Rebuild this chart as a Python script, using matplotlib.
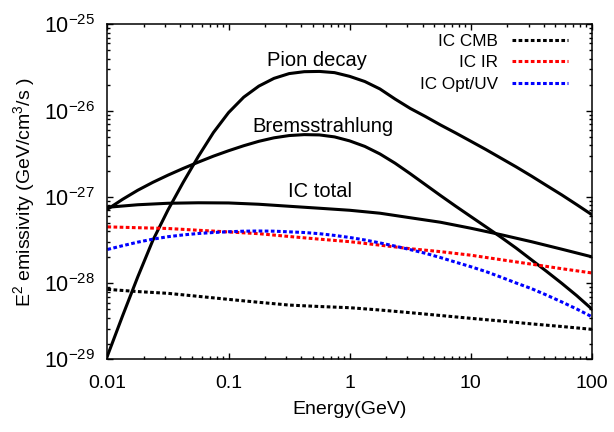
import matplotlib
matplotlib.use("Agg")
import matplotlib.pyplot as plt
from matplotlib.ticker import LogLocator, NullFormatter

plt.rcParams['font.family'] = ['Liberation Sans', 'DejaVu Sans']
plt.rcParams['mathtext.fontset'] = 'custom'
plt.rcParams['mathtext.rm'] = 'Liberation Sans'
plt.rcParams['mathtext.it'] = 'Liberation Sans'

# Energy grids (GeV)
energy_fine = [0.01, 0.01334, 0.01778, 0.02371, 0.03162, 0.04217, 0.05623, 0.07499,
               0.1, 0.1334, 0.1778, 0.2371, 0.3162, 0.4217, 0.5623, 0.7499,
               1.0, 1.334, 1.778, 2.371, 3.162, 4.217, 5.623, 7.499,
               10.0, 13.34, 17.78, 23.71, 31.62, 42.17, 56.23, 74.99, 100.0]
energy_coarse = [0.01, 0.01778, 0.03162, 0.05623, 0.1, 0.1778, 0.3162, 0.5623, 1.0,
                 1.778, 3.162, 5.623, 10.0, 17.78, 31.62, 56.23, 100.0]

pion = [1.45e-29, 4.22e-29, 1.186e-28, 3.15e-28, 7.08e-28, 1.474e-27, 2.94e-27, 5.57e-27,
        9.48e-27, 1.43e-26, 1.92e-26, 2.36e-26, 2.68e-26, 2.82e-26, 2.84e-26, 2.75e-26,
        2.49e-26, 2.17e-26, 1.78e-26, 1.36e-26, 1.06e-26, 8.55e-27, 6.82e-27, 5.51e-27,
        4.42e-27, 3.54e-27, 2.81e-27, 2.23e-27, 1.75e-27, 1.36e-27, 1.06e-27, 8.15e-28, 6.23e-28]
brems = [7.21e-28, 9.40e-28, 1.196e-27, 1.478e-27, 1.79e-27, 2.14e-27, 2.53e-27, 2.97e-27,
         3.43e-27, 3.92e-27, 4.41e-27, 4.84e-27, 5.14e-27, 5.27e-27, 5.23e-27, 4.96e-27,
         4.46e-27, 3.85e-27, 3.15e-27, 2.46e-27, 1.86e-27, 1.39e-27, 1.04e-27, 7.83e-28,
         5.94e-28, 4.51e-28, 3.42e-28, 2.56e-28, 1.88e-28, 1.38e-28, 1.005e-28, 7.21e-29, 5.04e-29]
ic_uv = [2.47e-28, 2.73e-28, 3.00e-28, 3.25e-28, 3.47e-28, 3.64e-28, 3.78e-28, 3.88e-28,
         3.96e-28, 4.02e-28, 4.04e-28, 4.02e-28, 3.95e-28, 3.88e-28, 3.76e-28, 3.59e-28,
         3.40e-28, 3.18e-28, 2.94e-28, 2.70e-28, 2.46e-28, 2.23e-28, 1.99e-28, 1.76e-28,
         1.56e-28, 1.37e-28, 1.18e-28, 1.01e-28, 8.71e-29, 7.33e-29, 6.11e-29, 5.05e-29, 4.11e-29]
ic_total = [7.60e-28, 8.13e-28, 8.46e-28, 8.57e-28, 8.53e-28, 8.24e-28, 7.81e-28, 7.41e-28,
            7.02e-28, 6.49e-28, 5.75e-28, 5.10e-28, 4.35e-28, 3.66e-28, 3.04e-28, 2.49e-28, 2.03e-28]
ic_cmb = [8.53e-29, 8.04e-29, 7.67e-29, 7.08e-29, 6.53e-29, 6.04e-29, 5.61e-29, 5.40e-29,
          5.23e-29, 4.92e-29, 4.58e-29, 4.25e-29, 3.94e-29, 3.67e-29, 3.40e-29, 3.17e-29, 2.94e-29]
ic_ir = [4.51e-28, 4.41e-28, 4.32e-28, 4.12e-28, 3.94e-28, 3.76e-28, 3.49e-28, 3.25e-28,
         3.04e-28, 2.77e-28, 2.52e-28, 2.33e-28, 2.12e-28, 1.88e-28, 1.67e-28, 1.48e-28, 1.32e-28]

xticks = [0.01, 0.1, 1, 10, 100]
xticklabels = ['0.01', '0.1', '1', '10', '100']
ytick_vals = [1.318e-29, 1e-28, 1e-27, 1e-26, 1e-25]
yticklabels = [r'$10^{-29}$', r'$10^{-28}$', r'$10^{-27}$', r'$10^{-26}$', r'$10^{-25}$']

fig = plt.figure(figsize=(6.14, 4.32), dpi=100)
ax = fig.add_axes([0.175, 0.168, 0.789, 0.776])

lw = 2.2
dots = (0, (1.2, 0.8))
ax.plot(energy_fine, pion, color='black', lw=lw, solid_joinstyle='round')
ax.plot(energy_fine, brems, color='black', lw=lw, solid_joinstyle='round')
ax.plot(energy_coarse, ic_total, color='black', lw=lw, solid_joinstyle='round')
ax.plot(energy_coarse, ic_cmb, color='black', lw=lw, ls=dots, dash_capstyle='butt', label='IC CMB')
ax.plot(energy_coarse, ic_ir, color='#ff0000', lw=lw, ls=dots, dash_capstyle='butt', label='IC IR')
ax.plot(energy_fine, ic_uv, color='#0000ff', lw=lw, ls=dots, dash_capstyle='butt', label='IC Opt/UV')

ax.set_xscale('log')
ax.set_yscale('log')
ax.set_xlim(0.01, 100)
ax.set_ylim(1.318e-29, 1e-25)

ax.set_xticks(xticks)
ax.set_xticklabels(xticklabels)
ax.set_yticks(ytick_vals)
ax.set_yticklabels(yticklabels)
ax.xaxis.set_minor_locator(LogLocator(base=10, subs=range(2, 10), numticks=20))
ax.yaxis.set_minor_locator(LogLocator(base=10, subs=range(2, 10), numticks=20))
ax.xaxis.set_minor_formatter(NullFormatter())
ax.yaxis.set_minor_formatter(NullFormatter())
ax.tick_params(which='both', direction='in', top=True, right=True, width=1.0)
ax.tick_params(which='major', length=4.5)
ax.tick_params(which='minor', length=2.3)
ax.tick_params(axis='x', which='major', labelsize=14, pad=11)
ax.tick_params(axis='y', which='major', labelsize=15.5, pad=9)
for s in ax.spines.values():
    s.set_linewidth(1.1)

ax.set_xlabel('Energy(GeV)', fontsize=14, labelpad=7)
ax.set_ylabel(r'E$^{2}$ emissivity (GeV/cm$^{3}$/s )', fontsize=14, labelpad=5)

ax.text(0.535, 3.32e-26, 'Pion decay', fontsize=14.5, ha='center', va='baseline')
ax.text(0.60, 5.63e-27, 'Bremsstrahlung', fontsize=14.5, ha='center', va='baseline')
ax.text(0.564, 1.0e-27, 'IC total', fontsize=14.5, ha='center', va='baseline')

leg = ax.legend(loc='upper right', frameon=False, fontsize=12.3, markerfirst=False,
                handlelength=3.28, handletextpad=0.82, labelspacing=0.36,
                borderpad=0.0, borderaxespad=0.0, bbox_to_anchor=(0.9505, 0.970))
for t in leg.get_texts():
    t.set_ha('right')

fig.savefig('out.png', dpi=100)
